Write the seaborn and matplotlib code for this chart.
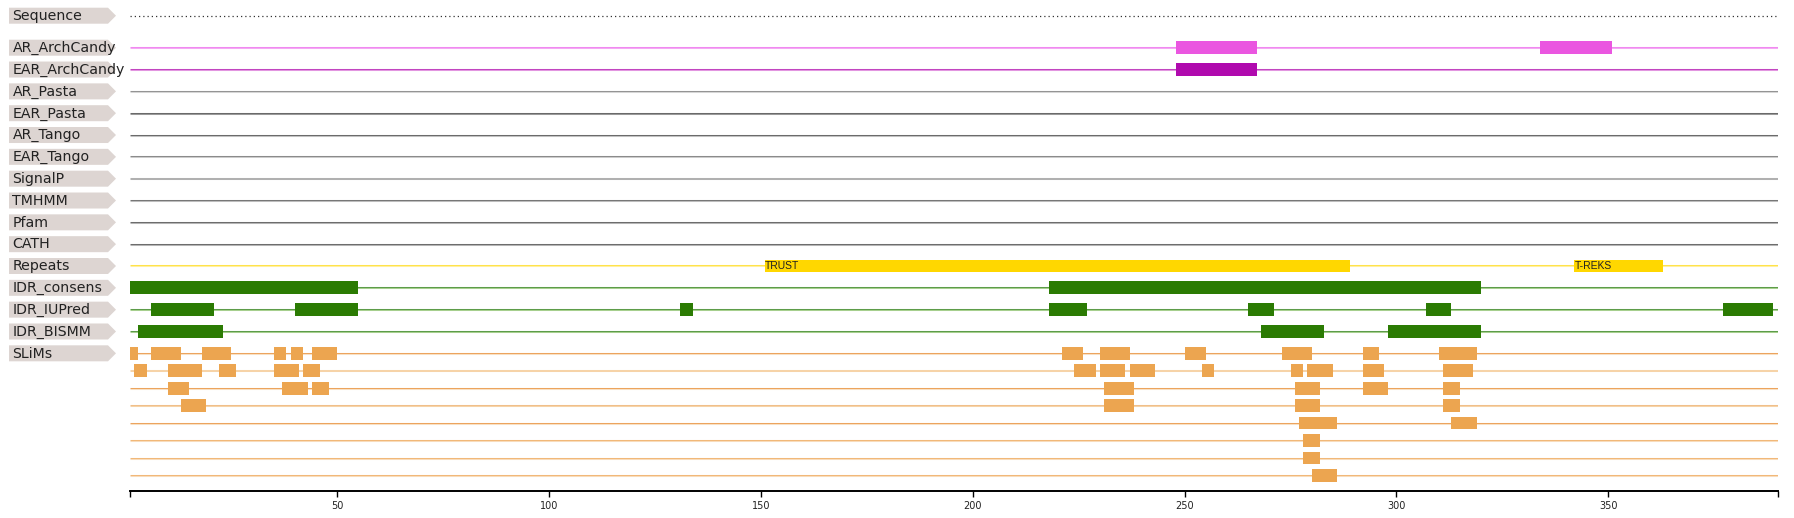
import matplotlib
matplotlib.use("Agg")
import matplotlib.pyplot as plt
from matplotlib.patches import Polygon
import seaborn as sns

# ---------------- data ----------------
seq_start, seq_end = 1, 390
track_names = ["Sequence", "AR_ArchCandy", "EAR_ArchCandy", "AR_Pasta", "EAR_Pasta",
               "AR_Tango", "EAR_Tango", "SignalP", "TMHMM", "Pfam", "CATH",
               "Repeats", "IDR_consens", "IDR_IUPred", "IDR_BISMM", "SLiMs"]

ar_archcandy = [(248, 267), (334, 351)]
ear_archcandy = [(248, 267)]
repeat_regions = [(151, 289), (342, 363)]
repeat_labels = ["TRUST", "T-REKS"]
idr_consens = [(1, 55), (218, 320)]
idr_iupred = [(6, 21), (40, 55), (131, 134), (218, 227), (265, 271), (307, 313), (377, 389)]
idr_bismm = [(3, 23), (268, 283), (298, 320)]

slims_row1 = [(1, 3), (6, 13), (18, 25), (35, 38), (39, 42), (44, 50),
              (221, 226), (230, 237), (250, 255), (273, 280), (292, 296), (310, 319)]
slims_row2 = [(2, 5), (10, 18), (22, 26), (35, 41), (42, 46),
              (224, 229), (230, 236), (237, 243), (254, 257), (275, 278), (279, 285),
              (292, 297), (311, 318)]
slims_row3 = [(10, 15), (37, 43), (44, 48), (231, 238), (276, 282), (292, 298), (311, 315)]
slims_row4 = [(13, 19), (231, 238), (276, 282), (311, 315)]
slims_row5 = [(277, 286), (313, 319)]
slims_row6 = [(278, 282)]
slims_row7 = [(278, 282)]
slims_row8 = [(280, 286)]
slims_rows = [slims_row1, slims_row2, slims_row3, slims_row4,
              slims_row5, slims_row6, slims_row7, slims_row8]

tick_values = [50, 100, 150, 200, 250, 300, 350]

# ---------------- styling ----------------
sns.set_theme(style="white")
plt.rcParams["font.family"] = ["DejaVu Sans"]

W, H = 1794, 518
fig = plt.figure(figsize=(W / 100, H / 100), dpi=100, facecolor="white")

AX_LEFT, AX_RIGHT, AX_BOTTOM = 129.7, 1777.7, 491.0
ax = fig.add_axes([AX_LEFT / W, (H - AX_BOTTOM) / H, (AX_RIGHT - AX_LEFT) / W, AX_BOTTOM / H])
ax.set_xlim(seq_start, seq_end)
ax.set_ylim(AX_BOTTOM, 0)

SEQ_Y = 15.7
MAIN_Y0 = 47.7
MAIN_STEP = 21.83
SLIM_STEP = 17.45
BAR_H = 12.7

row_y = {name: (SEQ_Y if i == 0 else MAIN_Y0 + (i - 1) * MAIN_STEP)
         for i, name in enumerate(track_names)}

line_colors = {
    "AR_ArchCandy": ("#f08af0", "#f4a8f4"),
    "EAR_ArchCandy": ("#c244c0", "#e296e0"),
    "AR_Pasta": ("#939393", "#d6d6d6"),
    "EAR_Pasta": ("#6a6a6a", "#9a9a9a"),
    "AR_Tango": ("#6a6a6a", "#c2c2c2"),
    "EAR_Tango": ("#8a8a8a", "#cccccc"),
    "SignalP": ("#b0b0b0", "#b0b0b0"),
    "TMHMM": ("#767676", "#bdbdbd"),
    "Pfam": ("#6c6c6c", "#b5b5b5"),
    "CATH": ("#6c6c6c", "#b5b5b5"),
    "Repeats": ("#ffe24a", "#fff0a0"),
    "IDR_consens": ("#5c9c48", "#a6cf8e"),
    "IDR_IUPred": ("#5c9c48", "#a6cf8e"),
    "IDR_BISMM": ("#5c9c48", "#a6cf8e"),
}
slim_line_colors = [("#eca35c", "#f8e0c4"), ("#f6d3a8", "#f6d3a8"),
                    ("#eca35c", "#f8e0c4"), ("#f0bf8a", "#f6d3a8"),
                    ("#eca35c", "#f8e0c4"), ("#f1b878", "#f8dcbc"),
                    ("#f1b878", "#f8dcbc"), ("#f1b878", "#f8dcbc")]

COL_AR = "#ea56e0"
COL_EAR = "#b00aae"
COL_REP = "#ffd700"
COL_IDR = "#2b7b03"
COL_SLIM = "#eca550"


def track_line(y, top, bottom):
    ax.hlines(y - 0.5, seq_start, seq_end, colors=top, lw=0.75, zorder=1)
    ax.hlines(y + 0.5, seq_start, seq_end, colors=bottom, lw=0.75, zorder=1)


def bars(spans, y, color):
    ax.broken_barh([(s, e - s) for s, e in spans], (y - BAR_H / 2, BAR_H),
                   facecolors=color, linewidth=0, zorder=3)


# sequence dotted line
ax.plot([seq_start, seq_end], [row_y["Sequence"]] * 2, color="#333333", lw=0.9,
        linestyle=(0, (1, 2.4)), zorder=1)

for name, (top, bottom) in line_colors.items():
    track_line(row_y[name], top, bottom)

for k, (top, bottom) in enumerate(slim_line_colors):
    track_line(row_y["SLiMs"] + k * SLIM_STEP, top, bottom)

bars(ar_archcandy, row_y["AR_ArchCandy"], COL_AR)
bars(ear_archcandy, row_y["EAR_ArchCandy"], COL_EAR)
bars(repeat_regions, row_y["Repeats"], COL_REP)
for (s, e), lab in zip(repeat_regions, repeat_labels):
    ax.text(s, row_y["Repeats"] + 0.3, lab, fontsize=7.5, family=["Liberation Sans"],
            ha="left", va="center", color="#222222", zorder=4)
bars(idr_consens, row_y["IDR_consens"], COL_IDR)
bars(idr_iupred, row_y["IDR_IUPred"], COL_IDR)
bars(idr_bismm, row_y["IDR_BISMM"], COL_IDR)
for k, spans in enumerate(slims_rows):
    bars(spans, row_y["SLiMs"] + k * SLIM_STEP, COL_SLIM)

# axis
sns.despine(ax=ax, left=True, top=True, right=True, bottom=False)
ax.spines["bottom"].set_color("black")
ax.spines["bottom"].set_linewidth(1.4)
ax.set_yticks([])
ax.set_xticks([seq_start] + tick_values + [seq_end])
ax.set_xticklabels([""] + [str(t) for t in tick_values] + [""])
ax.tick_params(axis="x", direction="out", length=4.4, width=1.0, color="black",
               labelsize=7, labelcolor="#222222", pad=3, bottom=True)
ax.set_facecolor("none")
ax.grid(False)

# labels on the left (pixel coordinates)
lab_ax = fig.add_axes([0, 0, 1, 1], zorder=-1)
lab_ax.set_xlim(0, W)
lab_ax.set_ylim(H, 0)
lab_ax.set_axis_off()
for name in track_names:
    y = row_y[name]
    poly = Polygon([(9, y - 8), (108, y - 8), (116, y), (108, y + 8), (9, y + 8)],
                   closed=True, facecolor="#ddd5d2", edgecolor="none")
    lab_ax.add_patch(poly)
    lab_ax.text(12.5, y + 4.2, name, fontsize=10.2, color="#222222",
                ha="left", va="baseline")

fig.savefig("out.png", dpi=100, facecolor="white")
